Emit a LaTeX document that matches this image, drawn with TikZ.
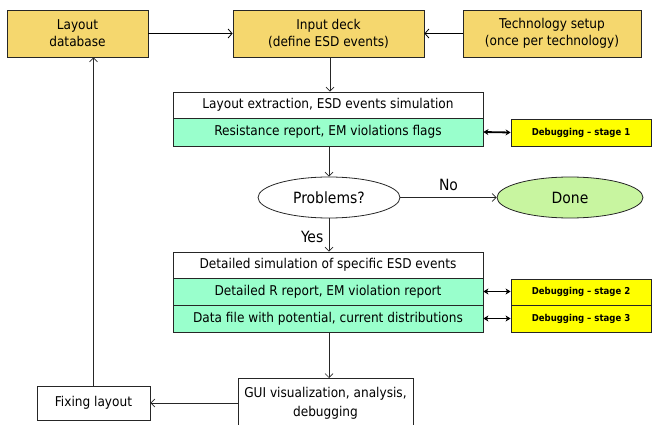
\documentclass[tikz,border=0pt]{standalone}
\usepackage{fontspec}
\setmainfont{DejaVu Sans Condensed}
\usetikzlibrary{arrows.meta,shapes.geometric}
\definecolor{gold}{HTML}{F5D76E}
\definecolor{mint}{HTML}{99FFCC}
\definecolor{brightyellow}{HTML}{FFFF00}
\definecolor{donegreen}{HTML}{C8F5A0}
\tikzset{
  box/.style={draw=black!85, line width=0.8pt, rectangle, inner sep=0pt, align=center, font=\fontsize{13.5}{17}\selectfont},
  golden/.style={box, fill=gold},
  plain/.style={box, fill=white},
  report/.style={box, fill=mint},
  debug/.style={box, fill=brightyellow, font=\bfseries\fontsize{9.5}{11}\selectfont},
  oval/.style={draw=black!85, line width=0.8pt, ellipse, inner sep=0pt, font=\fontsize{15.5}{18}\selectfont},
  flow/.style={draw=black!85, line width=0.7pt, -{Straight Barb[length=4pt,width=8pt]}},
  feed/.style={draw=black, line width=1.8pt, -{Straight Barb[length=4pt,width=9pt,line width=0.8pt]}},
  link/.style={draw=black, line width=1.8pt, {Stealth[length=5pt,width=6pt,inset=1.5pt]}-{Stealth[length=5pt,width=6pt,inset=1.5pt]}},
  tag/.style={font=\fontsize{15.5}{18}\selectfont}
}
\begin{document}
\begin{tikzpicture}[x=1pt,y=-1pt]
\useasboundingbox (0,0) rectangle (654,425);

% top row of inputs
\node[golden, minimum width=141pt, minimum height=47pt] (layout) at (77.5,33.5) {Layout\\database};
\node[golden, minimum width=191pt, minimum height=47pt] (deck) at (328.5,33.5) {Input deck\\(define ESD events)};
\node[golden, minimum width=178pt, minimum height=47pt] (tech) at (552,33.5) {Technology setup\\(once per technology)};

% first extraction stage
\node[plain, minimum width=310pt, minimum height=26pt] (extract) at (328,105) {Layout extraction, ESD events simulation};
\node[report, minimum width=310pt, minimum height=28pt] (resrep) at (328,132) {Resistance report, EM violations flags};
\node[debug, minimum width=140pt, minimum height=27pt] (dbg1) at (581,132.5) {Debugging -- stage 1};

% decision
\node[oval, minimum width=142pt, minimum height=41pt] (problems) at (329,197.5) {Problems?};
\node[oval, fill=donegreen, minimum width=146pt, minimum height=41pt] (done) at (570,197.5) {Done};

% detailed stage
\node[plain, minimum width=310pt, minimum height=26pt] (detail) at (328,265) {Detailed simulation of specific ESD events};
\node[report, minimum width=310pt, minimum height=27pt] (rrep) at (328,291.5) {Detailed R report, EM violation report};
\node[report, minimum width=310pt, minimum height=27pt] (datafile) at (328,318.5) {Data file with potential, current distributions};
\node[debug, minimum width=140pt, minimum height=26pt] (dbg2) at (581,292) {Debugging -- stage 2};
\node[debug, minimum width=140pt, minimum height=27pt] (dbg3) at (581,318.5) {Debugging -- stage 3};

% bottom row
\node[plain, minimum width=175pt, minimum height=54pt, anchor=north] (gui) at (325.5,378) {};
\node[font=\fontsize{13.5}{19}\selectfont, align=center] (guitext) at (325.5,403) {GUI visualization, analysis,\\debugging};
\node[plain, minimum width=113pt, minimum height=34pt] (fix) at (93.5,403) {Fixing layout};

% connectors
\draw[feed] (layout.east) -- (deck.west);
\draw[feed] (tech.west) -- (deck.east);
\draw[flow] (deck.south -| extract.north) ++(2,0) coordinate (a1) -- (a1 |- extract.north);
\draw[link] (resrep.east) -- (dbg1.west);
\draw[flow] (resrep.south) ++(1,0) coordinate (a2) -- (a2 |- problems.north);
\draw[flow] (problems.east) -- node[tag, above=3pt] (no) {No} (done.west);
\draw[flow] (problems.south) -- node[tag, left=2pt, pos=0.55] (yes) {Yes} (problems.south |- detail.north);
\draw[link] (rrep.east) -- (dbg2.west |- rrep.east);
\draw[link] (datafile.east) -- (dbg3.west);
\draw[flow] (datafile.south) ++(1,0) coordinate (a3) -- (a3 |- gui.north);
\draw[flow] (gui.west |- fix.east) -- (fix.east);
\draw[flow] (fix.north) -- (fix.north |- layout.south);
\end{tikzpicture}
\end{document}
